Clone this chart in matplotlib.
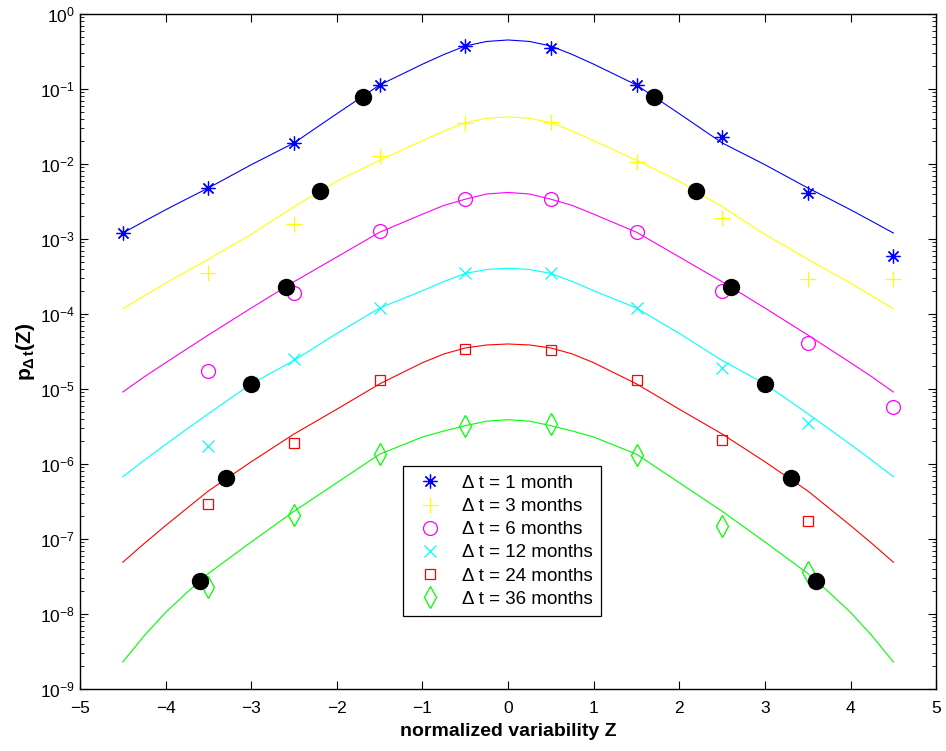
import numpy as np
import matplotlib
matplotlib.use('Agg')
import matplotlib.pyplot as plt

plt.rcParams['font.family'] = ['Liberation Sans', 'DejaVu Sans']
plt.rcParams['mathtext.fontset'] = 'custom'
plt.rcParams['mathtext.rm'] = 'Liberation Sans'
plt.rcParams['mathtext.bf'] = 'Liberation Sans:bold'
plt.rcParams['mathtext.it'] = 'Liberation Sans:italic'

# ─── fitted curves ───────────────────────────────────────────────────────
z_fit = [-4.5, -4.25, -4.0, -3.75, -3.5, -3.0, -2.5, -2.0, -1.5, -1.0, -0.75, -0.5, -0.25, 0.0,
         0.25, 0.5, 0.75, 1.0, 1.5, 2.0, 2.5, 3.0, 3.5, 3.75, 4.0, 4.25, 4.5]

fit_1m = [1.20e-3, 1.72e-3, 2.45e-3, 3.44e-3, 4.79e-3, 9.77e-3, 1.91e-2, 4.68e-2, 0.113, 0.214, 0.288, 0.374, 0.430, 0.450,
          0.430, 0.374, 0.288, 0.214, 0.113, 4.68e-2, 1.91e-2, 9.77e-3, 4.79e-3, 3.44e-3, 2.45e-3, 1.72e-3, 1.20e-3]
fit_3m = [1.17e-4, 1.74e-4, 2.57e-4, 3.72e-4, 5.37e-4, 1.15e-3, 2.69e-3, 5.89e-3, 1.12e-2, 2.04e-2, 2.75e-2, 3.55e-2, 4.07e-2, 4.24e-2,
          4.07e-2, 3.55e-2, 2.75e-2, 2.04e-2, 1.12e-2, 5.89e-3, 2.69e-3, 1.15e-3, 5.37e-4, 3.72e-4, 2.57e-4, 1.74e-4, 1.17e-4]
fit_6m = [9.12e-6, 1.45e-5, 2.24e-5, 3.43e-5, 5.25e-5, 1.20e-4, 2.69e-4, 5.75e-4, 1.23e-3, 2.14e-3, 2.80e-3, 3.39e-3, 3.98e-3, 4.17e-3,
          3.98e-3, 3.39e-3, 2.80e-3, 2.14e-3, 1.23e-3, 5.75e-4, 2.69e-4, 1.20e-4, 5.25e-5, 3.43e-5, 2.24e-5, 1.45e-5, 9.12e-6]
fit_12m = [6.76e-7, 1.12e-6, 1.82e-6, 2.93e-6, 4.68e-6, 1.17e-5, 2.40e-5, 5.50e-5, 1.20e-4, 2.04e-4, 2.71e-4, 3.47e-4, 3.92e-4, 4.07e-4,
           3.92e-4, 3.47e-4, 2.71e-4, 2.04e-4, 1.20e-4, 5.50e-5, 2.40e-5, 1.17e-5, 4.68e-6, 2.93e-6, 1.82e-6, 1.12e-6, 6.76e-7]
fit_24m = [4.90e-8, 8.71e-8, 1.51e-7, 2.57e-7, 4.37e-7, 1.07e-6, 2.51e-6, 5.37e-6, 1.17e-5, 2.24e-5, 2.93e-5, 3.52e-5, 3.86e-5, 3.98e-5,
           3.86e-5, 3.52e-5, 2.93e-5, 2.24e-5, 1.17e-5, 5.37e-6, 2.51e-6, 1.07e-6, 4.37e-7, 2.57e-7, 1.51e-7, 8.71e-8, 4.90e-8]
fit_36m = [2.29e-9, 5.13e-9, 1.05e-8, 1.94e-8, 3.47e-8, 9.12e-8, 2.34e-7, 5.62e-7, 1.35e-6, 2.29e-6, 2.75e-6, 3.24e-6, 3.72e-6, 3.89e-6,
           3.72e-6, 3.24e-6, 2.75e-6, 2.29e-6, 1.35e-6, 5.62e-7, 2.34e-7, 9.12e-8, 3.47e-8, 1.94e-8, 1.05e-8, 5.13e-9, 2.29e-9]

# ─── empirical points ───────────────────────────────────────────────────
z_1m = [-4.5, -3.5, -2.5, -1.5, -0.5, 0.5, 1.5, 2.5, 3.5, 4.5]
p_1m = [1.2e-3, 4.8e-3, 1.9e-2, 0.113, 0.37, 0.35, 0.113, 2.27e-2, 4.1e-3, 5.9e-4]
z_3m = [-3.5, -2.5, -1.5, -0.5, 0.5, 1.5, 2.5, 3.5, 4.5]
p_3m = [3.5e-4, 1.6e-3, 1.28e-2, 3.56e-2, 3.67e-2, 1.07e-2, 1.9e-3, 2.9e-4, 2.9e-4]
z_6m = [-3.5, -2.5, -1.5, -0.5, 0.5, 1.5, 2.5, 3.5, 4.5]
p_6m = [1.74e-5, 1.9e-4, 1.29e-3, 3.4e-3, 3.4e-3, 1.23e-3, 2.0e-4, 4.1e-5, 5.8e-6]
z_12m = [-3.5, -2.5, -1.5, -0.5, 0.5, 1.5, 2.5, 3.5]
p_12m = [1.74e-6, 2.5e-5, 1.2e-4, 3.5e-4, 3.5e-4, 1.2e-4, 1.9e-5, 3.5e-6]
z_24m = [-3.5, -2.5, -1.5, -0.5, 0.5, 1.5, 2.5, 3.5]
p_24m = [2.9e-7, 1.9e-6, 1.32e-5, 3.4e-5, 3.3e-5, 1.32e-5, 2.1e-6, 1.74e-7]
z_36m = [-3.5, -2.5, -1.5, -0.5, 0.5, 1.5, 2.5, 3.5]
p_36m = [2.3e-8, 2.1e-7, 1.35e-6, 3.2e-6, 3.4e-6, 1.32e-6, 1.5e-7, 3.6e-8]

# black dots on each fit
z_dots = [-1.7, 1.7, -2.2, 2.2, -2.6, 2.6, -3.0, 3.0, -3.3, 3.3, -3.6, 3.6]
p_dots = [7.7e-2, 7.7e-2, 4.3e-3, 4.3e-3, 2.3e-4, 2.3e-4,
          1.17e-5, 1.17e-5, 6.5e-7, 6.5e-7, 2.75e-8, 2.75e-8]

labels = ['\u0394 t = 1 month', '\u0394 t = 3 months', '\u0394 t = 6 months',
          '\u0394 t = 12 months', '\u0394 t = 24 months', '\u0394 t = 36 months']

colors = ['#0000ff', '#ffff00', '#ff00ff', '#00ffff', '#ff0000', '#00ff00']
markers = [(8, 2, 0), '+', 'o', 'x', 's', 'd']
msizes = [10, 11, 10, 8, 7.5, 11]

fits = [fit_1m, fit_3m, fit_6m, fit_12m, fit_24m, fit_36m]
zs = [z_1m, z_3m, z_6m, z_12m, z_24m, z_36m]
ps = [p_1m, p_3m, p_6m, p_12m, p_24m, p_36m]

fig = plt.figure(figsize=(9.46, 7.51), dpi=100)
ax = fig.add_axes([0.0846, 0.0826, 0.905, 0.8988])

for fit, c in zip(fits, colors):
    ax.plot(z_fit, fit, color=c, lw=0.8, zorder=2)

for z, p, c, m, ms, lab in zip(zs, ps, colors, markers, msizes, labels):
    ax.plot(z, p, linestyle='none', marker=m, markersize=ms, markeredgecolor=c,
            markerfacecolor='none', markeredgewidth=0.9, label=lab, zorder=3)

ax.plot(z_dots, p_dots, linestyle='none', marker='o', markersize=11.5,
        color='black', zorder=4)

ax.set_yscale('log')
ax.set_xlim(-5, 5)
ax.set_ylim(1e-9, 1)
ax.set_xticks(np.arange(-5, 6, 1))
ax.set_yticks([10.0 ** k for k in range(-9, 1)])
ax.tick_params(which='both', direction='in', top=True, right=True, labelsize=12.5)
ax.tick_params(which='major', length=6, width=0.8)
ax.tick_params(axis='x', pad=9)
ax.tick_params(which='minor', length=3, width=0.6)
for s in ax.spines.values():
    s.set_linewidth(1.0)

ax.set_xlabel('normalized variability Z', fontsize=14, fontweight='bold', labelpad=5)
ax.set_ylabel('$\\mathbf{p_{\\Delta\\,t}(Z)}$', fontsize=15, labelpad=2)

leg = ax.legend(loc='lower left', bbox_to_anchor=(0.377, 0.108), fontsize=13.5,
                frameon=True, fancybox=False, edgecolor='black', framealpha=1,
                handletextpad=0.7, borderpad=0.45, labelspacing=0.32, handlelength=2.0,
                borderaxespad=0)
leg.get_frame().set_linewidth(0.9)

plt.savefig('out.png', dpi=100)
plt.close()
